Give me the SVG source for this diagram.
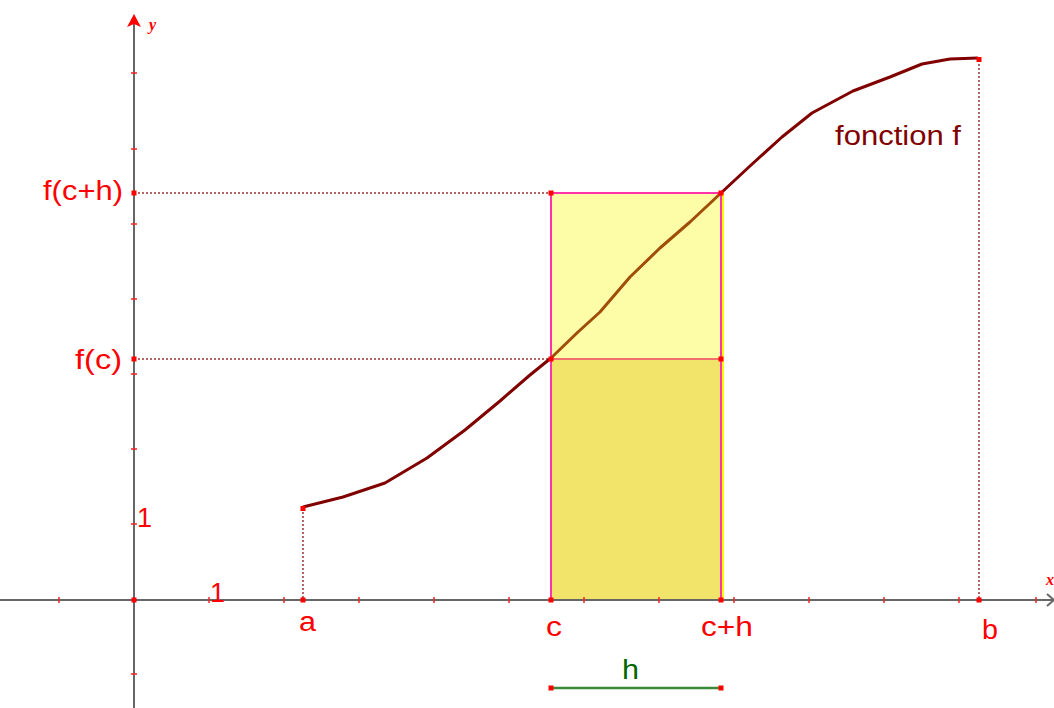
<svg xmlns="http://www.w3.org/2000/svg" width="1054" height="708" viewBox="0 0 1054 708">
<style>
.axis{stroke:#666;stroke-width:2;fill:none}
.tick{stroke:#ff2020;stroke-width:1.5}
.dot{stroke:#993333;stroke-width:1.5;stroke-dasharray:2 2;fill:none}
.pt{fill:#ff0000}
.lbl{font-family:"Liberation Sans",Arial,sans-serif;font-size:27px;fill:#ff0000}
.ax{font-family:"Liberation Serif","Times New Roman",serif;font-size:16px;font-weight:bold;font-style:italic;fill:#ff0000}
</style>
<rect width="1054" height="708" fill="#fff"/>
<g id="rectangles">
<rect x="551" y="193" width="170" height="166" fill="#fdfda8"/>
<rect x="551" y="359" width="170" height="241" fill="#f2e36a"/>
<line x1="723" y1="193" x2="723" y2="600" stroke="#ffff00" stroke-width="2"/>
<rect x="551" y="193" width="170" height="407" fill="none" stroke="#ff33aa" stroke-width="2"/>
<line x1="551" y1="359" x2="721" y2="359" stroke="#f07070" stroke-width="2"/>
</g>
<g id="axes">
<line class="axis" x1="0" y1="600" x2="1054" y2="600"/>
<line class="axis" x1="134" y1="708" x2="134" y2="18"/>
<polyline points="1047,594 1054,600 1047,606" fill="none" stroke="#666" stroke-width="2"/>
<polygon points="134,14 141,27 134,24 127,27" fill="#ff0000"/>
<g id="xticks">
<line class="tick" x1="59" y1="597" x2="59" y2="603"/>
<line class="tick" x1="209" y1="597" x2="209" y2="603"/>
<line class="tick" x1="284" y1="597" x2="284" y2="603"/>
<line class="tick" x1="359" y1="597" x2="359" y2="603"/>
<line class="tick" x1="434" y1="597" x2="434" y2="603"/>
<line class="tick" x1="509" y1="597" x2="509" y2="603"/>
<line class="tick" x1="584" y1="597" x2="584" y2="603"/>
<line class="tick" x1="659" y1="597" x2="659" y2="603"/>
<line class="tick" x1="734" y1="597" x2="734" y2="603"/>
<line class="tick" x1="809" y1="597" x2="809" y2="603"/>
<line class="tick" x1="884" y1="597" x2="884" y2="603"/>
<line class="tick" x1="959" y1="597" x2="959" y2="603"/>
<line class="tick" x1="1036" y1="597" x2="1036" y2="603"/>
</g>
<g id="yticks">
<line class="tick" x1="131" y1="674" x2="137" y2="674"/>
<line class="tick" x1="131" y1="524" x2="137" y2="524"/>
<line class="tick" x1="131" y1="449" x2="137" y2="449"/>
<line class="tick" x1="131" y1="374" x2="137" y2="374"/>
<line class="tick" x1="131" y1="299" x2="137" y2="299"/>
<line class="tick" x1="131" y1="224" x2="137" y2="224"/>
<line class="tick" x1="131" y1="149" x2="137" y2="149"/>
<line class="tick" x1="131" y1="73" x2="137" y2="73"/>
</g>
</g>
<g id="dotted">
<line class="dot" x1="303" y1="508" x2="303" y2="600"/>
<line class="dot" x1="979" y1="60" x2="979" y2="600"/>
<line class="dot" x1="134" y1="193" x2="551" y2="193"/>
<line class="dot" x1="134" y1="359" x2="551" y2="359"/>
</g>
<g id="curve">
<polyline points="303,507 343,497 385,483 427,458 465,430 500,401 530,375 551,358" fill="none" stroke="#800000" stroke-width="3" stroke-linejoin="round"/>
<polyline points="551,358 578,332 600,312 630,277 660,248 690,222 721,193" fill="none" stroke="#a04d08" stroke-width="3" stroke-linejoin="round"/>
<polyline points="721,193 750,166 782,137 812,113 825,106 853,91 890,77 922,64 950,59 978,58" fill="none" stroke="#800000" stroke-width="3" stroke-linejoin="round"/>
</g>
<g id="h-segment">
<line x1="551" y1="688" x2="721" y2="688" stroke="#3a8a3a" stroke-width="2.5"/>
</g>
<g id="points">
<rect class="pt" x="131.5" y="597.5" width="5" height="5"/>
<rect class="pt" x="300.5" y="597.5" width="5" height="5"/>
<rect class="pt" x="976.5" y="597.5" width="5" height="5"/>
<rect class="pt" x="548.5" y="597.5" width="5" height="5"/>
<rect class="pt" x="718.5" y="597.5" width="5" height="5"/>
<rect class="pt" x="131.5" y="190.5" width="5" height="5"/>
<rect class="pt" x="131.5" y="356.5" width="5" height="5"/>
<rect class="pt" x="548.5" y="190.5" width="5" height="5"/>
<rect class="pt" x="718.5" y="190.5" width="5" height="5"/>
<rect class="pt" x="548.5" y="356.5" width="5" height="5"/>
<rect class="pt" x="718.5" y="356.5" width="5" height="5"/>
<rect class="pt" x="300.5" y="506" width="5" height="5"/>
<rect class="pt" x="976.5" y="57" width="5" height="5"/>
<rect class="pt" x="548.5" y="685.5" width="5" height="5"/>
<rect class="pt" x="718.5" y="685.5" width="5" height="5"/>
</g>
<g id="labels">
<text class="lbl" x="43" y="200" textLength="80" lengthAdjust="spacingAndGlyphs">f(c+h)</text>
<text class="lbl" x="75" y="369" textLength="47" lengthAdjust="spacingAndGlyphs">f(c)</text>
<text class="lbl" x="137" y="527">1</text>
<text class="lbl" x="210" y="602">1</text>
<text class="lbl" x="299" y="631" textLength="17" lengthAdjust="spacingAndGlyphs">a</text>
<text class="lbl" x="546" y="636" textLength="16" lengthAdjust="spacingAndGlyphs">c</text>
<text class="lbl" x="701" y="636" textLength="52" lengthAdjust="spacingAndGlyphs">c+h</text>
<text class="lbl" x="982" y="639" textLength="16" lengthAdjust="spacingAndGlyphs">b</text>
<text class="lbl" x="622" y="679" fill="#006600" style="fill:#006600" textLength="17" lengthAdjust="spacingAndGlyphs">h</text>
<text class="lbl" x="835" y="145" style="fill:#800000" textLength="126" lengthAdjust="spacingAndGlyphs">fonction f</text>
<text class="ax" x="149" y="30">y</text>
<text class="ax" x="1046" y="585">x</text>
</g>
</svg>
